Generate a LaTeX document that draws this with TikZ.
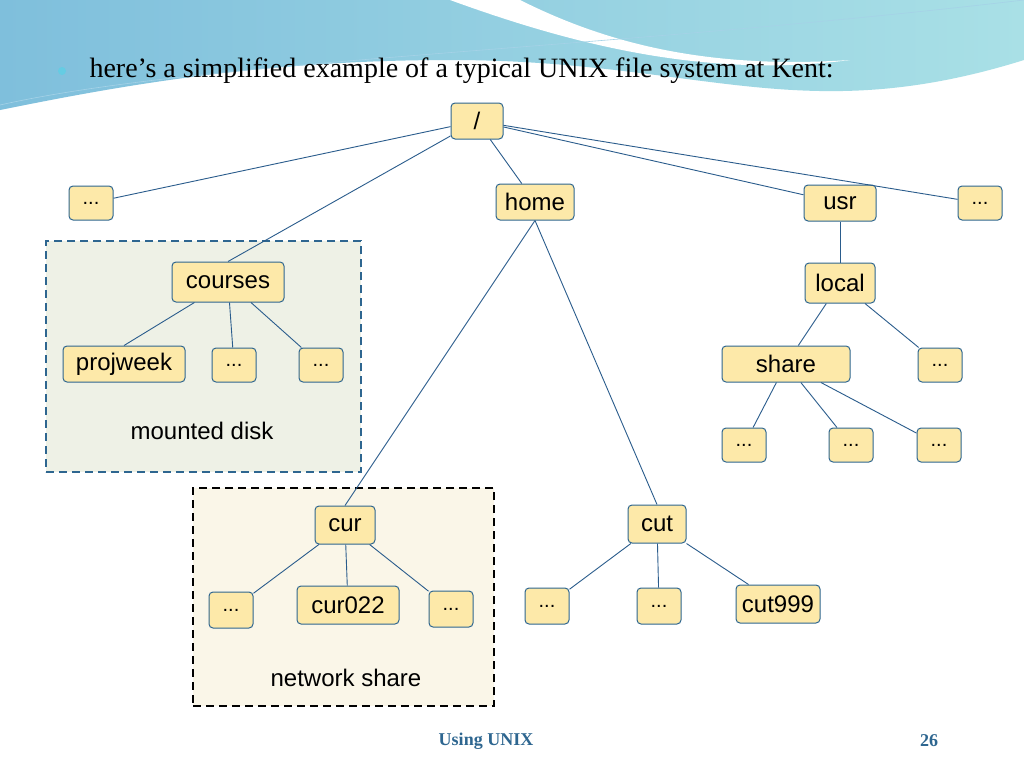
\documentclass[tikz,border=0pt]{standalone}
\usepackage{fontspec}
\setmainfont{Liberation Serif}
\newfontfamily\sans{Liberation Sans}
\begin{document}
\begin{tikzpicture}[x=1pt,y=-1pt,
  n/.style={draw=nodeb,fill=nodef,rounded corners=4pt,line width=1pt,minimum height=36pt,inner xsep=4pt,font=\sans\fontsize{24}{26}\selectfont},
  d/.style={n,minimum width=44pt,minimum height=34pt,font=\sans\fontsize{20}{22}\selectfont},
  l/.style={draw=linec,line width=0.9pt},
  lab/.style={font=\sans\fontsize{24}{26}\selectfont}]
\definecolor{nodef}{HTML}{FDE9A9}
\definecolor{nodeb}{HTML}{2E6690}
\definecolor{linec}{HTML}{2A5C8C}
\definecolor{skyA}{HTML}{7FBFDC}
\definecolor{skyB}{HTML}{A9E0E6}
\definecolor{mfill}{HTML}{EEF1E6}
\definecolor{nfill}{HTML}{FAF6E8}
\useasboundingbox (0,0) rectangle (1024,768);
\fill[white] (0,0) rectangle (1024,768);
% header
\shade[left color=skyA,right color=skyB] (0,0) -- (1024,0) -- (1024,60) .. controls (800,130) and (700,60) .. (450,60) .. controls (250,60) and (100,90) .. (0,110) -- cycle;
\fill[white] (450,0) .. controls (560,40) and (700,80) .. (850,60) .. controls (700,70) and (600,40) .. (520,0) -- cycle;
\draw[skyA!70!white,line width=0.6pt] (0,105) .. controls (200,60) and (600,50) .. (1024,0);
\fill[skyA!80!cyan] (62,71) circle (4);
\node[anchor=west,font=\fontsize{28}{30}\selectfont] (title) at (86,71) {here’s a simplified example of a typical UNIX file system at Kent:};
% boxes
\node[draw=nodeb,line width=1.5pt,fill=mfill,minimum width=315pt,minimum height=231pt,dash pattern=on 8pt off 5pt] (mbox) at (203.5,356.5) {};
\node[draw=black,line width=1.5pt,fill=nfill,minimum width=301pt,minimum height=218pt,dash pattern=on 8pt off 5pt] (nbox) at (343.5,597) {};
\node[lab] (ml) at (202,431) {mounted disk};
\node[lab] (nl) at (346,678) {network share};
% nodes
\node[n,minimum width=52pt] (root) at (477,121) {/};
\node[d] (d1) at (91,203) {...};
\node[n,minimum width=78pt] (home) at (535,202) {home};
\node[n,minimum width=72pt] (usr) at (840,203) {usr};
\node[d] (d2) at (980,203) {...};
\node[n,minimum width=112pt,minimum height=40pt] (courses) at (228,282) {courses};
\node[n,minimum width=70pt,minimum height=40pt] (local) at (840,283) {local};
\node[n,minimum width=122pt] (proj) at (124,364) {projweek};
\node[d] (d3) at (234,365) {...};
\node[d] (d4) at (321,365) {...};
\node[n,minimum width=128pt] (share) at (786,364) {share};
\node[d] (d5) at (940,365) {...};
\node[d] (d6) at (744,445) {...};
\node[d] (d7) at (851,445) {...};
\node[d] (d8) at (939,445) {...};
\node[n,minimum width=60pt,minimum height=38pt] (cur) at (345,525) {cur};
\node[n,minimum width=58pt,minimum height=38pt] (cut) at (657,524) {cut};
\node[d,minimum height=36pt] (d9) at (231,610) {...};
\node[n,minimum width=102pt,minimum height=38pt] (cur022) at (348,605) {cur022};
\node[d,minimum height=36pt] (d10) at (451,609) {...};
\node[d,minimum height=36pt] (d11) at (547,606) {...};
\node[d,minimum height=36pt] (d12) at (659,606) {...};
\node[n,minimum width=84pt,minimum height=38pt] (cut999) at (778,604) {cut999};
% edges
\draw[l] (root) -- (d1);
\draw[l] (root) -- (courses.north);
\draw[l] (root) -- (home);
\draw[l] (root) -- (usr);
\draw[l] (root) -- (d2);
\draw[l] (courses) -- (proj.north);
\draw[l] (courses) -- (d3);
\draw[l] (courses) -- (d4);
\draw[l] (usr) -- (local);
\draw[l] (local) -- (share);
\draw[l] (local) -- (d5);
\draw[l] (share) -- (d6);
\draw[l] (share) -- (d7);
\draw[l] (share) -- (d8);
\draw[l] (home.south) -- (cur.north);
\draw[l] (home.south) -- (cut.north);
\draw[l] (cur) -- (d9);
\draw[l] (cur) -- (cur022);
\draw[l] (cur) -- (d10);
\draw[l] (cut) -- (d11);
\draw[l] (cut) -- (d12);
\draw[l] (cut) -- (cut999);
% footer
\node[font=\bfseries\fontsize{18}{20}\selectfont,text=nodeb] (foot) at (486,741) {Using UNIX};
\node[font=\bfseries\fontsize{18}{20}\selectfont,text=nodeb] (pg) at (929,741) {26};
\end{tikzpicture}
\end{document}
